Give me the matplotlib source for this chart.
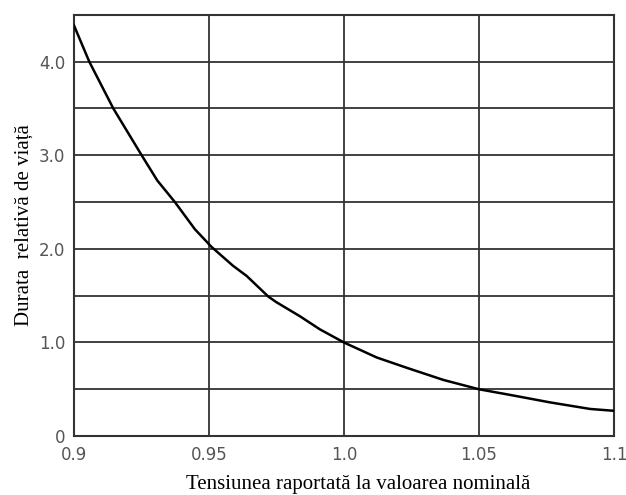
import numpy as np
import matplotlib
matplotlib.use("Agg")
from matplotlib import pyplot as plt

# values
tensiune = [0.9, 0.9057, 0.9146, 0.9251, 0.9309, 0.9374, 0.9448, 0.951,
            0.9589, 0.964, 0.972, 0.975, 0.9837, 0.9911, 1.0,
            1.0121, 1.0232, 1.0368, 1.05, 1.0615, 1.0763, 1.0911, 1.1]
durata = [4.39, 4.0, 3.5, 3.0, 2.73, 2.5, 2.21, 2.02,
          1.82, 1.71, 1.49, 1.43, 1.28, 1.14, 1.0,
          0.84, 0.73, 0.60, 0.5, 0.44, 0.36, 0.29, 0.27]

x_ticks = [0.9, 0.95, 1.0, 1.05, 1.1]
x_labels = ["0.9", "0.95", "1.0", "1.05", "1.1"]
y_ticks = [0, 1, 2, 3, 4]
y_labels = ["0", "1.0", "2.0", "3.0", "4.0"]
y_grid = [0.5, 1.5, 2.5, 3.5]

fig = plt.figure(figsize=(6.26, 4.95), dpi=100)
ax = fig.add_axes([0.118, 0.119, 0.863, 0.851])

ax.plot(tensiune, durata, color="black", lw=1.8, zorder=3)

ax.set_xlim(0.9, 1.1)
ax.set_ylim(0, 4.5)
ax.set_xticks(x_ticks)
ax.set_xticklabels(x_labels)
ax.set_yticks(y_ticks)
ax.set_yticklabels(y_labels)
ax.set_yticks(y_grid, minor=True)
ax.tick_params(which="both", length=0, labelsize=12, labelcolor="#555555")
ax.tick_params(axis="x", pad=7)
ax.tick_params(axis="y", pad=6)
ax.grid(True, which="both", color="#333333", lw=1.3)

for s in ax.spines.values():
    s.set_color("#333333")
    s.set_linewidth(1.5)

ax.set_xlabel("Tensiunea raportată la valoarea nominală", family="Liberation Serif",
              fontsize=15, labelpad=8, x=0.526)
ax.set_ylabel("Durata  relativă de viață", family="Liberation Serif",
              fontsize=15, labelpad=4)

plt.savefig("out.png")
